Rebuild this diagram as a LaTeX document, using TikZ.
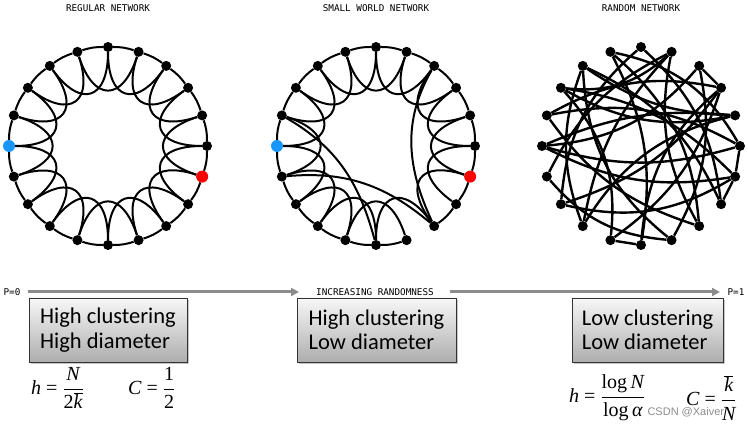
\documentclass[tikz,border=0pt]{standalone}
\usepackage{fontspec}
\newfontfamily\boxfont{Carlito}
\newfontfamily\pixfont{DejaVu Sans Mono}
\newfontfamily\markfont{Liberation Sans}
\newfontfamily\tnr{Liberation Serif}
\usetikzlibrary{arrows.meta,shadows}
\definecolor{dotblue}{RGB}{25,150,250}
\definecolor{rampgray}{RGB}{140,140,140}
\newcommand{\mv}[1]{\mbox{\tnr\itshape #1}}
\newcommand{\mr}[1]{\mbox{\tnr #1}}

\begin{document}
\begin{tikzpicture}[x=1pt,y=1pt,
    dot/.style={circle,fill=black,inner sep=0pt,minimum size=10pt},
    link/.style={line width=2pt,black},
    rlink/.style={line width=2.4pt,black},
    title/.style={font=\pixfont\fontsize{9.3}{11}\selectfont},
    ramp/.style={line width=3pt,rampgray,-{Triangle[length=8pt,width=8pt]}},
    infobox/.style={draw=black!80,line width=0.8pt,top color=black!3,bottom color=black!32,
        drop shadow={shadow xshift=2pt,shadow yshift=-2pt,opacity=0.45},
        minimum height=64pt,minimum width=#1,align=left,
        font=\boxfont\fontsize{22.5}{24.5}\selectfont},
    formula/.style={anchor=west,inner sep=0pt,font=\tnr\fontsize{20}{24}\selectfont},
    ]
\useasboundingbox (0,0) rectangle (748,425);

% regular network
\node[title] (tReg) at (108,417) {REGULAR NETWORK};
\begin{scope}[shift={(108,279)}]
    \foreach \i in {0,...,5,7,8,...,14,16,17,18,19}{
        \node[dot] (r\i) at ({90-18*\i}:99) {};
        };
    \node[dot,fill=red,minimum size=12pt] (r6) at (-18:99) {};
    \node[dot,fill=dotblue,minimum size=12pt] (r15) at (180:99) {};
\end{scope}
\foreach \i [evaluate=\i as \j using {int(mod(\i+1,20))}] in {0,...,19}{
    \draw[link] (r\i) to[bend left=9] (r\j);
    };
\foreach \i [evaluate=\i as \k using {int(mod(\i+2,20))},
             evaluate=\i as \ao using {270-18*\i},
             evaluate=\i as \ai using {234-18*\i}] in {0,...,19}{
    \draw[link] (r\i) to[out=\ao,in=\ai,looseness=2.1] (r\k);
    };

% small world network
\node[title] (tSmall) at (376,417) {SMALL WORLD NETWORK};
\begin{scope}[shift={(376,279)}]
    \foreach \i in {0,...,5,7,8,...,14,16,17,18,19}{
        \node[dot] (s\i) at ({90-18*\i}:99) {};
        };
    \node[dot,fill=red,minimum size=12pt] (s6) at (-18:99) {};
    \node[dot,fill=dotblue,minimum size=12pt] (s15) at (180:99) {};
\end{scope}
\foreach \i [evaluate=\i as \j using {int(mod(\i+1,20))}] in {0,...,7,9,10,...,19}{
    \draw[link] (s\i) to[bend left=9] (s\j);
    };
\foreach \i [evaluate=\i as \k using {int(mod(\i+2,20))},
             evaluate=\i as \ao using {270-18*\i},
             evaluate=\i as \ai using {234-18*\i}] in {0,...,6,8,9,...,19}{
    \draw[link] (s\i) to[out=\ao,in=\ai,looseness=2.1] (s\k);
    };
% rewired links
\draw[link] (s2) to[out=240,in=115] (s8);
\draw[link] (s14) to[out=5,in=140] (s8);
\draw[link] (s16) to[out=-30,in=105] (s10);

% random network
\node[title] (tRand) at (641,417) {RANDOM NETWORK};
\begin{scope}[shift={(641,279)}]
    \foreach \i in {0,...,19}{
        \node[dot] (q\i) at ({90-18*\i}:99) {};
        };
\end{scope}
\foreach \a/\b/\bb in {0/13/-22, 0/7/20, 1/14/-18, 1/17/24, 1/12/-16, 2/3/0,
        2/15/22, 3/16/-20, 3/11/18, 4/15/-14, 4/17/20, 4/12/-22, 5/6/0,
        5/15/16, 5/19/-24, 6/7/0, 6/17/-18, 6/13/22, 7/18/-20, 8/16/18,
        8/19/-22, 8/1/20, 9/18/24, 9/2/-20, 10/11/0, 10/19/-18, 10/3/22,
        11/17/-24, 12/18/20, 13/3/-18, 14/9/-22, 15/6/-18, 16/5/20, 18/4/-16}{
    \draw[rlink] (q\a) to[bend left=\bb] (q\b);
    };

% randomness axis
\node[title] (p0) at (12,133) {P=0};
\node[title] (incr) at (375,133) {INCREASING RANDOMNESS};
\node[title] (p1) at (736,133) {P=1};
\coordinate (a0) at (28,133);
\coordinate (a1) at (299,133);
\coordinate (b0) at (450,133);
\coordinate (b1) at (720,133);
\draw[ramp] (a0) -- (a1);
\draw[ramp] (b0) -- (b1);

% property boxes
\node[infobox=158pt] (boxReg) at (108,95) {High clustering\\High diameter};
\node[infobox=159pt] (boxSmall) at (376.5,95) {High clustering\\Low diameter};
\node[infobox=151pt] (boxRand) at (647.5,95) {Low clustering\\Low diameter};

% formulas
\node[formula] (hReg) at (31,37) {$\mv{h}\mr{ = }\displaystyle\frac{\mv{N}}{\mr{2}\overline{\mv{k}}}$};
\node[formula] (cReg) at (128,37) {$\mv{C}\mr{ = }\displaystyle\frac{\mr{1}}{\mr{2}}$};
\node[anchor=west,text=black!45,font=\markfont\fontsize{11}{12}\selectfont] (mark) at (644,13) {CSDN @Xaiver};
\node[formula] (hRand) at (569,27) {$\mv{h}\mr{ = }\displaystyle\frac{\mr{log}\,\mv{N}}{\mr{log}\,\mv{α}}$};
\node[formula] (cRand) at (686,27) {$\mv{C}\mr{ = }\displaystyle\frac{\overline{\mv{k}}}{\mv{N}}$};
\end{tikzpicture}
\end{document}
